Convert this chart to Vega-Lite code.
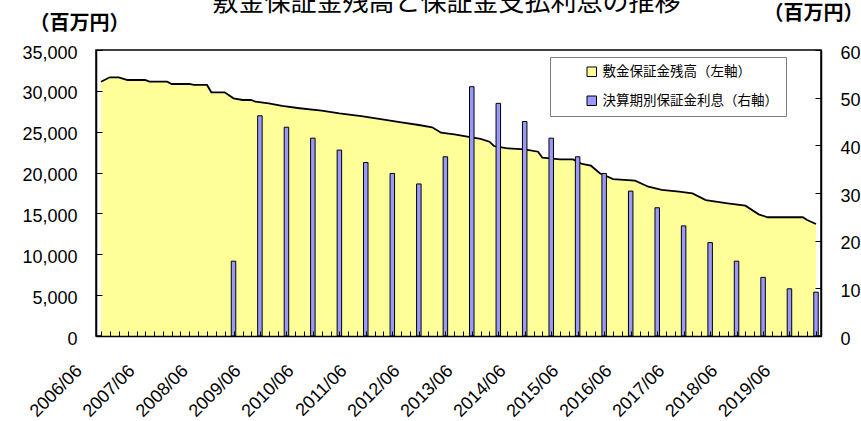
{
  "$schema": "https://vega.github.io/schema/vega-lite/v6.json",
  "autosize": {"type": "none"},
  "width": 725,
  "height": 286,
  "padding": {"left": 96, "top": 50, "right": 40, "bottom": 85},
  "background": "white",
  "title": {
    "text": "敷金保証金残高と保証金支払利息の推移",
    "font": "Noto Sans CJK JP",
    "fontSize": 26,
    "fontWeight": "normal",
    "color": "black",
    "anchor": "middle",
    "dx": -12,
    "dy": 17
  },
  "datasets": {
    "balance": [
      {"date": "2006-06", "value": 31120},
      {"date": "2006-08", "value": 31660},
      {"date": "2006-10", "value": 31660},
      {"date": "2006-12", "value": 31330},
      {"date": "2007-04", "value": 31330},
      {"date": "2007-05", "value": 31120},
      {"date": "2007-09", "value": 31120},
      {"date": "2007-10", "value": 30840},
      {"date": "2008-02", "value": 30840},
      {"date": "2008-03", "value": 30720},
      {"date": "2008-06", "value": 30720},
      {"date": "2008-07", "value": 29820},
      {"date": "2008-10", "value": 29820},
      {"date": "2008-12", "value": 29090},
      {"date": "2009-02", "value": 28880},
      {"date": "2009-04", "value": 28880},
      {"date": "2009-05", "value": 28670},
      {"date": "2009-08", "value": 28470},
      {"date": "2009-11", "value": 28150},
      {"date": "2010-03", "value": 27870},
      {"date": "2010-08", "value": 27570},
      {"date": "2010-12", "value": 27250},
      {"date": "2011-05", "value": 26920},
      {"date": "2011-09", "value": 26560},
      {"date": "2012-02", "value": 26150},
      {"date": "2012-06", "value": 25820},
      {"date": "2012-09", "value": 25540},
      {"date": "2012-11", "value": 24880},
      {"date": "2013-02", "value": 24680},
      {"date": "2013-05", "value": 24390},
      {"date": "2013-08", "value": 24110},
      {"date": "2013-10", "value": 23780},
      {"date": "2013-11", "value": 23250},
      {"date": "2014-02", "value": 22970},
      {"date": "2014-06", "value": 22850},
      {"date": "2014-09", "value": 22550},
      {"date": "2014-10", "value": 21820},
      {"date": "2015-02", "value": 21620},
      {"date": "2015-05", "value": 21620},
      {"date": "2015-07", "value": 21050},
      {"date": "2015-09", "value": 20840},
      {"date": "2015-11", "value": 19910},
      {"date": "2016-02", "value": 19210},
      {"date": "2016-07", "value": 19010},
      {"date": "2016-10", "value": 18270},
      {"date": "2017-01", "value": 17870},
      {"date": "2017-05", "value": 17660},
      {"date": "2017-08", "value": 17460},
      {"date": "2017-11", "value": 16640},
      {"date": "2018-04", "value": 16240},
      {"date": "2018-08", "value": 15950},
      {"date": "2018-11", "value": 14890},
      {"date": "2019-01", "value": 14530},
      {"date": "2019-09", "value": 14530},
      {"date": "2019-10", "value": 14200},
      {"date": "2019-12", "value": 13710}
    ],
    "interest": [
      {"date": "2008-12", "value": 15.7},
      {"date": "2009-06", "value": 46.2},
      {"date": "2009-12", "value": 43.8},
      {"date": "2010-06", "value": 41.5},
      {"date": "2010-12", "value": 39.0},
      {"date": "2011-06", "value": 36.4},
      {"date": "2011-12", "value": 34.1},
      {"date": "2012-06", "value": 31.9},
      {"date": "2012-12", "value": 37.6},
      {"date": "2013-06", "value": 52.3},
      {"date": "2013-12", "value": 48.8},
      {"date": "2014-06", "value": 45.0},
      {"date": "2014-12", "value": 41.5},
      {"date": "2015-06", "value": 37.6},
      {"date": "2015-12", "value": 34.1},
      {"date": "2016-06", "value": 30.4},
      {"date": "2016-12", "value": 26.9},
      {"date": "2017-06", "value": 23.1},
      {"date": "2017-12", "value": 19.6},
      {"date": "2018-06", "value": 15.7},
      {"date": "2018-12", "value": 12.3},
      {"date": "2019-06", "value": 9.9},
      {"date": "2019-12", "value": 9.2}
    ]
  },
  "encoding": {
    "x": {
      "field": "date",
      "type": "temporal",
      "scale": {"domain": [{"year": 2006, "month": 6, "date": 1}, {"year": 2019, "month": 12, "date": 1}], "nice": false},
      "axis": {
        "title": null,
        "values": [
          {"year": 2006, "month": 6}, {"year": 2006, "month": 8}, {"year": 2006, "month": 10}, {"year": 2006, "month": 12},
          {"year": 2007, "month": 2}, {"year": 2007, "month": 4}, {"year": 2007, "month": 6}, {"year": 2007, "month": 8}, {"year": 2007, "month": 10}, {"year": 2007, "month": 12},
          {"year": 2008, "month": 2}, {"year": 2008, "month": 4}, {"year": 2008, "month": 6}, {"year": 2008, "month": 8}, {"year": 2008, "month": 10}, {"year": 2008, "month": 12},
          {"year": 2009, "month": 2}, {"year": 2009, "month": 4}, {"year": 2009, "month": 6}, {"year": 2009, "month": 8}, {"year": 2009, "month": 10}, {"year": 2009, "month": 12},
          {"year": 2010, "month": 2}, {"year": 2010, "month": 4}, {"year": 2010, "month": 6}, {"year": 2010, "month": 8}, {"year": 2010, "month": 10}, {"year": 2010, "month": 12},
          {"year": 2011, "month": 2}, {"year": 2011, "month": 4}, {"year": 2011, "month": 6}, {"year": 2011, "month": 8}, {"year": 2011, "month": 10}, {"year": 2011, "month": 12},
          {"year": 2012, "month": 2}, {"year": 2012, "month": 4}, {"year": 2012, "month": 6}, {"year": 2012, "month": 8}, {"year": 2012, "month": 10}, {"year": 2012, "month": 12},
          {"year": 2013, "month": 2}, {"year": 2013, "month": 4}, {"year": 2013, "month": 6}, {"year": 2013, "month": 8}, {"year": 2013, "month": 10}, {"year": 2013, "month": 12},
          {"year": 2014, "month": 2}, {"year": 2014, "month": 4}, {"year": 2014, "month": 6}, {"year": 2014, "month": 8}, {"year": 2014, "month": 10}, {"year": 2014, "month": 12},
          {"year": 2015, "month": 2}, {"year": 2015, "month": 4}, {"year": 2015, "month": 6}, {"year": 2015, "month": 8}, {"year": 2015, "month": 10}, {"year": 2015, "month": 12},
          {"year": 2016, "month": 2}, {"year": 2016, "month": 4}, {"year": 2016, "month": 6}, {"year": 2016, "month": 8}, {"year": 2016, "month": 10}, {"year": 2016, "month": 12},
          {"year": 2017, "month": 2}, {"year": 2017, "month": 4}, {"year": 2017, "month": 6}, {"year": 2017, "month": 8}, {"year": 2017, "month": 10}, {"year": 2017, "month": 12},
          {"year": 2018, "month": 2}, {"year": 2018, "month": 4}, {"year": 2018, "month": 6}, {"year": 2018, "month": 8}, {"year": 2018, "month": 10}, {"year": 2018, "month": 12},
          {"year": 2019, "month": 2}, {"year": 2019, "month": 4}, {"year": 2019, "month": 6}, {"year": 2019, "month": 8}, {"year": 2019, "month": 10}, {"year": 2019, "month": 12}
        ],
        "labelExpr": "month(datum.value) == 5 ? timeFormat(datum.value, '%Y/%m') : ''",
        "labelAngle": -45,
        "labelAlign": "right",
        "labelBaseline": "middle",
        "labelPadding": 37,
        "labelOffset": -22,
        "labelOverlap": false,
        "labelFlush": false,
        "labelBound": false,
        "labelFontSize": 18,
        "tickSize": -5,
        "zindex": 1
      }
    }
  },
  "layer": [
    {
      "data": {"name": "balance", "format": {"parse": {"date": "date:'%Y-%m'"}}},
      "encoding": {
        "y": {
          "field": "value",
          "type": "quantitative",
          "scale": {"domain": [0, 35000], "nice": false},
          "axis": {
            "orient": "left",
            "values": [0, 5000, 10000, 15000, 20000, 25000, 30000, 35000],
            "labelExpr": "format(datum.value, ',')",
            "tickSize": -6,
            "labelPadding": 25,
            "labelOffset": 3,
            "labelFontSize": 18,
            "title": "（百万円）",
            "titleAngle": 0,
            "titleX": -17,
            "titleY": -27,
            "titleAlign": "center",
            "titleBaseline": "middle",
            "titleFont": "Noto Sans CJK JP",
            "titleFontWeight": "bold",
            "titleFontSize": 20,
            "zindex": 1
          }
        }
      },
      "layer": [
        {
          "mark": {"type": "area", "opacity": 1},
          "encoding": {
            "color": {
              "datum": "敷金保証金残高（左軸）",
              "scale": {"domain": ["敷金保証金残高（左軸）", "決算期別保証金利息（右軸）"], "range": ["#FFFF99", "#9999FF"]},
              "legend": {
                "title": null,
                "orient": "none",
                "legendX": 454,
                "legendY": 7,
                "padding": 8,
                "strokeColor": "#808080",
                "fillColor": "white",
                "symbolType": "square",
                "symbolSize": 90,
                "symbolOpacity": 1,
                "symbolOffset": 27,
                "labelOffset": 4,
                "labelLimit": 400,
                "labelFont": "Noto Sans CJK JP",
                "labelFontSize": 13.5,
                "labelColor": "black",
                "labelExpr": "datum.label + '　　'",
                "rowPadding": 14,
                "encode": {
                  "symbols": {"update": {"stroke": {"value": "black"}, "strokeWidth": {"value": 1}}}
                }
              }
            }
          }
        },
        {
          "mark": {"type": "line", "color": "black", "strokeWidth": 1.8},
          "encoding": {}
        }
      ]
    },
    {
      "data": {"name": "interest", "format": {"parse": {"date": "date:'%Y-%m'"}}},
      "mark": {"type": "bar", "width": 4.5, "stroke": "black", "strokeWidth": 1},
      "encoding": {
        "y": {
          "field": "value",
          "type": "quantitative",
          "scale": {"domain": [0, 60], "nice": false},
          "axis": {
            "orient": "right",
            "values": [0, 10, 20, 30, 40, 50, 60],
            "tickSize": -6,
            "labelPadding": 25,
            "labelOffset": 3,
            "labelFontSize": 18,
            "title": "（百万円）",
            "titleAngle": 0,
            "titleX": -8,
            "titleY": -37,
            "titleAlign": "center",
            "titleBaseline": "middle",
            "titleFont": "Noto Sans CJK JP",
            "titleFontWeight": "bold",
            "titleFontSize": 20,
            "zindex": 1
          }
        },
        "color": {"datum": "決算期別保証金利息（右軸）"}
      }
    }
  ],
  "resolve": {"scale": {"y": "independent"}},
  "config": {
    "font": "Liberation Sans",
    "view": {"stroke": "black", "strokeWidth": 1.5},
    "axis": {
      "grid": false,
      "domainColor": "black",
      "domainWidth": 1.5,
      "tickColor": "black",
      "tickWidth": 1,
      "labelColor": "black",
      "labelFont": "Liberation Sans",
      "titleColor": "black"
    }
  }
}
